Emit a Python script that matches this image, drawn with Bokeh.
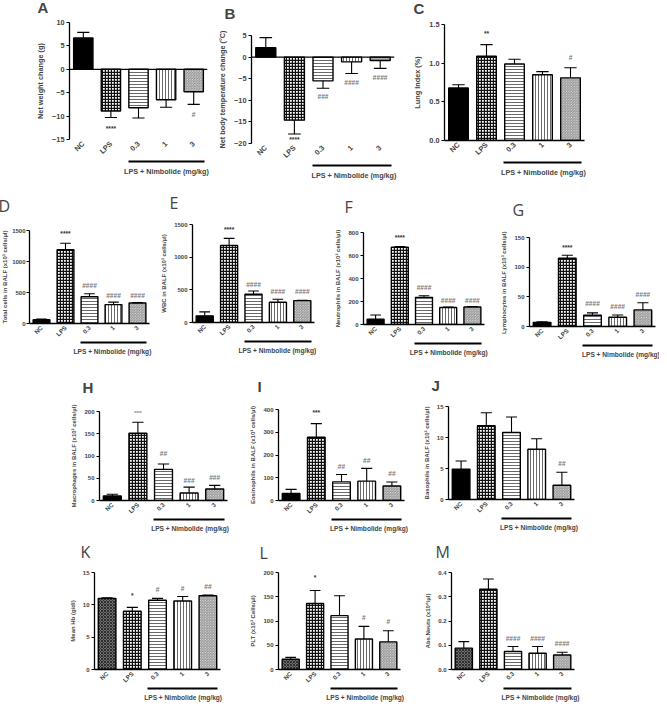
import numpy as np
from math import pi
from bokeh.plotting import figure
from bokeh.layouts import row, column
from bokeh.models import (Range1d, FixedTicker, Span, LinearAxis, ColumnDataSource,
                          PrintfTickFormatter)
from bokeh.embed import file_html
from bokeh.resources import INLINE

# ---------------- data ----------------
categories = ["NC", "LPS", "0.3", "1", "3"]
group_title = "LPS + Nimbolide (mg/kg)"

a_mean = [6.7, -8.9, -8.2, -6.5, -4.8]
a_err = [1.2, 1.4, 2.2, 1.6, 2.7]
a_sig = ["", "****", "", "", "#"]
a_sig_y = [0, -12.6, 0, 0, -9.6]
a_ticks = [-15, -10, -5, 0, 5, 10]

b_mean = [2.2, -14.6, -5.5, -1.1, -0.8]
b_err = [2.3, 3.2, 1.7, 2.7, 1.8]
b_sig = ["", "****", "###", "####", "####"]
b_sig_y = [0, -19.0, -9.2, -5.9, -4.8]
b_ticks = [-20, -15, -10, -5, 0, 5]

c_mean = [0.68, 1.09, 0.99, 0.85, 0.81]
c_err = [0.04, 0.15, 0.06, 0.04, 0.13]
c_sig = ["", "**", "", "", "#"]
c_sig_y = [0, 1.39, 0, 0, 1.07]
c_ticks = [0.0, 0.5, 1.0, 1.5]

d_mean = [60, 1190, 432, 305, 330]
d_err = [12, 105, 48, 40, 6]
d_sig = ["", "****", "####", "####", "####"]
d_sig_y = [0, 1446, 610, 459, 459]
d_ticks = [0, 500, 1000, 1500]

e_mean = [102, 1180, 432, 310, 335]
e_err = [60, 108, 50, 45, 6]
e_sig = ["", "****", "####", "####", "####"]
e_sig_y = [0, 1423, 585, 473, 468]
e_ticks = [0, 500, 1000, 1500]

f_mean = [46, 672, 236, 148, 152]
f_err = [36, 6, 14, 3, 4]
f_sig = ["", "****", "####", "####", "####"]
f_sig_y = [0, 759, 321, 213, 213]
f_ticks = [0, 200, 400, 600, 800]

g_mean = [7, 115, 19, 15.5, 28]
g_err = [1, 5, 4, 4, 12]
g_sig = ["", "****", "####", "####", "####"]
g_sig_y = [0, 133, 38, 34, 54]
g_ticks = [0, 50, 100, 150]

h_mean = [10, 151, 70, 17, 26]
h_err = [4, 25, 12, 13, 8]
h_sig = ["", "***", "##", "###", "###"]
h_sig_y = [0, 197, 105, 45, 52]
h_ticks = [0, 50, 100, 150, 200]

i_mean = [31, 278, 82, 85, 64]
i_err = [18, 60, 32, 56, 17]
i_sig = ["", "***", "##", "##", "##"]
i_sig_y = [0, 385, 151, 177, 117]
i_ticks = [0, 100, 200, 300, 400]

j_mean = [4.9, 11.9, 10.8, 8.1, 2.3]
j_err = [1.3, 2.1, 2.5, 1.7, 2.1]
j_sig = ["", "*", "", "", "##"]
j_sig_y = [0, 15.5, 0, 0, 5.8]
j_ticks = [0, 5, 10, 15]

k_mean = [11.0, 9.0, 10.7, 10.6, 11.4]
k_err = [0.1, 0.6, 0.3, 0.7, 0.1]
k_sig = ["", "*", "#", "#", "##"]
k_sig_y = [0, 11.5, 12.4, 12.5, 12.9]
k_ticks = [0, 5, 10, 15]

l_mean = [21, 136, 111, 63, 57]
l_err = [4, 27, 41, 26, 23]
l_sig = ["", "*", "", "#", "#"]
l_sig_y = [0, 190, 0, 108, 99]
l_ticks = [0, 50, 100, 150, 200]

m_mean = [0.088, 0.331, 0.074, 0.067, 0.060]
m_err = [0.027, 0.042, 0.021, 0.028, 0.011]
m_sig = ["", "****", "####", "####", "####"]
m_sig_y = [0, 0.414, 0.129, 0.129, 0.107]
m_ticks = [0.0, 0.1, 0.2, 0.3, 0.4]

y_labels = {
    "A": "Net weight change (g)",
    "B": "Net body temperature change (°C)",
    "C": "Lung Index (%)",
    "D": "Total cells in BALF (x10³ cells/µl)",
    "E": "WBC in BALF (x10³ cells/µl)",
    "F": "Neutrophils in BALF (x10³ cells/µl)",
    "G": "Lymphocytes  in BALF (x10³ cells/µl)",
    "H": "Macrophages in BALF (x10³ cells/µl)",
    "I": "Eosinophils in BALF (x10³ cells/µl)",
    "J": "Basophils in BALF (x10³ cells/µl)",
    "K": "Mean Hb (g/dl)",
    "L": "PLT (x10³ Cells/µl)",
    "M": "Abs.Neuts (x10⁶/µl)",
}

# ---------------- layout & style ----------------
FONT = "Liberation Sans"
BAR_W = 0.7
PAGE_MARGIN = 8
GROUP_EM = 11.8   # width of the group caption in em (Liberation Sans Bold)


def make_panel(letter, mean, err, sig, sig_y, ticks, box, frame, lpos, big, slot,
               textured_nc=False, zero_line=False, one_decimal=False, bold_letter=True,
               label_standoff=4, tick_standoff=2):
    x0, x1, y0, y1 = box
    fl, fr, ft, fb = frame
    W = x1 - x0
    H = y1 - y0
    bl, br, bt, bb = fl - x0, x1 - fr, ft - y0, y1 - fb
    fw = W - bl - br
    # hidden extra canvas above/below (cancelled by negative margins); a distinct
    # amount per panel so that neighbouring panels keep their own frame positions
    ext_t = 24 + 3 * slot
    ext_b = 24 + 3 * slot

    tick_fs = "7.3px" if big else "6px"
    lab_fs = "7.3px" if big else "6px"
    cat_fs = "7.3px" if big else "6.2px"
    grp_fs = 7.2 if big else 6.6

    p = figure(width=W, height=H + ext_t + ext_b, x_range=Range1d(0.5, 5.5),
               y_range=Range1d(ticks[0], ticks[-1]),
               output_backend="svg", toolbar_location=None,
               min_border_left=bl, min_border_right=br,
               min_border_top=bt + ext_t, min_border_bottom=bb + ext_b,
               margin=(-ext_t, 0, -ext_b, 0))
    p.outline_line_color = None
    p.xgrid.visible = False
    p.ygrid.visible = False
    p.border_fill_alpha = 0
    p.background_fill_alpha = 0

    # panel letter as the title
    lx, ltop = lpos
    p.title.text = letter
    p.title.align = "left"
    p.title.offset = lx - fl
    p.title.text_font = FONT if bold_letter else "Open Sans"
    p.title.text_font_style = "bold" if bold_letter else "normal"
    p.title.text_font_size = "15px" if bold_letter else "16px"
    p.title.standoff = max(0, int(round((ft - ltop) - 8)))

    xs = np.arange(1, len(categories) + 1)
    mean = np.array(mean, dtype=float)
    err = np.array(err, dtype=float)

    if textured_nc:
        nc_fill, nc_hatch, nc_hcol = "#6e6e6e", "diagonal_cross", "#2e2e2e"
    else:
        nc_fill, nc_hatch, nc_hcol = "black", " ", "black"
    fills = [nc_fill, "white", "white", "white", "white"]
    hatches = [nc_hatch, "cross", "horizontal_line", "vertical_line", "left_diagonal_line"]
    hcols = [nc_hcol, "#111111", "#6a6a6a", "#6a6a6a", "#8a8a8a"]
    hscales = [3.0, 3.0, 3.0, 3.0, 2.6]
    hweights = [1.0, 1.4, 1.0, 1.0, 0.9]

    src = ColumnDataSource(dict(x=xs, top=mean, fill=fills, hatch=hatches, hcol=hcols,
                                hs=hscales, hw=hweights))
    p.vbar(x="x", top="top", bottom=0, width=BAR_W, source=src,
           fill_color="fill", hatch_pattern="hatch", hatch_color="hcol",
           hatch_scale="hs", hatch_weight="hw",
           line_color="black", line_width=1.4)

    sign = np.where(mean >= 0, 1.0, -1.0)
    tip = mean + sign * err
    p.segment(x0=xs, y0=mean, x1=xs, y1=tip, line_color="black", line_width=1.1)
    p.segment(x0=xs - 0.22, y0=tip, x1=xs + 0.22, y1=tip, line_color="black", line_width=1.1)

    sx = [x for x, s in zip(xs, sig) if s]
    sy = [y for y, s in zip(sig_y, sig) if s]
    st = [s for s in sig if s]
    scol = ["#333333" if "*" in s else "#777777" for s in st]
    p.text(x=sx, y=sy, text=st, text_color=scol, text_align="center",
           text_baseline="middle", text_font_size="6.6px", text_font_style="bold")

    if zero_line:
        p.add_layout(Span(location=0, dimension="width", line_color="black", line_width=1.3))

    # y axis
    ya = p.yaxis[0]
    ya.ticker = FixedTicker(ticks=ticks)
    if one_decimal:
        ya.formatter = PrintfTickFormatter(format="%.1f")
    ya.axis_label = y_labels[letter]
    ya.axis_label_text_font = FONT
    ya.axis_label_text_font_style = "bold"
    ya.axis_label_text_font_size = lab_fs
    ya.axis_label_standoff = label_standoff
    ya.major_label_text_font = FONT
    ya.major_label_text_font_style = "bold"
    ya.major_label_text_font_size = tick_fs
    ya.major_label_standoff = tick_standoff
    ya.major_tick_in = 0
    ya.major_tick_out = 3
    ya.minor_tick_line_color = None
    ya.axis_line_width = 1.3
    ya.major_tick_line_width = 1.1

    # category x axis
    xa = p.xaxis[0]
    xa.ticker = FixedTicker(ticks=list(xs))
    xa.major_label_overrides = {int(x): c for x, c in zip(xs, categories)}
    xa.major_label_orientation = pi / 4
    xa.major_label_text_font = FONT
    xa.major_label_text_font_style = "bold"
    xa.major_label_text_font_size = cat_fs
    xa.major_label_standoff = 3
    xa.major_tick_in = 0
    xa.major_tick_out = 0
    xa.minor_tick_line_color = None
    xa.axis_line_width = 1.3
    if zero_line:
        xa.axis_line_color = None

    # group bracket: a second bottom axis whose line is bounded to the treated groups;
    # its caption is pushed right (non-breaking spaces) so that it ends at the frame's end
    left = 3 - BAR_W / 2 - 0.03
    right = 5 + BAR_W / 2 + 0.03
    tw = GROUP_EM * grp_fs
    pad = max(0, int(round((fw + 4 - tw) / (0.278 * grp_fs))))
    ga = LinearAxis(ticker=FixedTicker(ticks=[]), bounds=(left, right),
                    axis_label="\u00a0" * pad + group_title, axis_label_standoff=5,
                    axis_label_text_font=FONT, axis_label_text_font_style="bold",
                    axis_label_text_font_size=f"{grp_fs}px",
                    major_tick_out=0, major_tick_in=0, minor_tick_out=0, minor_tick_in=0,
                    major_label_text_font_size="0px", axis_line_width=1.8)
    p.add_layout(ga, "below")
    return column(p)


pA = make_panel("A", a_mean, a_err, a_sig, a_sig_y, a_ticks, (0, 220, 0, 190), (77, 215, 30, 147), (45, 9), True, 0, zero_line=True)
pB = make_panel("B", b_mean, b_err, b_sig, b_sig_y, b_ticks, (220, 418, 0, 190), (259, 402, 43, 151), (232, 8), True, 1, zero_line=True)
pC = make_panel("C", c_mean, c_err, c_sig, c_sig_y, c_ticks, (418, 667, 0, 190), (452, 592, 32, 148), (421, 8), True, 2, one_decimal=True)

pD = make_panel("D", d_mean, d_err, d_sig, d_sig_y, d_ticks, (0, 160, 190, 372), (37, 157, 238, 331), (6, 202), False, 0, bold_letter=False, label_standoff=1, tick_standoff=1)
pE = make_panel("E", e_mean, e_err, e_sig, e_sig_y, e_ticks, (160, 340, 190, 372), (200, 322, 232, 330), (177, 203), False, 1, bold_letter=False)
pF = make_panel("F", f_mean, f_err, f_sig, f_sig_y, f_ticks, (340, 506, 190, 372), (369, 492, 240, 332), (350, 202), False, 2, bold_letter=False)
pG = make_panel("G", g_mean, g_err, g_sig, g_sig_y, g_ticks, (506, 667, 190, 372), (532, 663, 245, 334), (515, 204), False, 3, bold_letter=False)

pH = make_panel("H", h_mean, h_err, h_sig, h_sig_y, h_ticks, (0, 255, 372, 542), (107, 235, 419, 508), (90, 380), False, 0)
pI = make_panel("I", i_mean, i_err, i_sig, i_sig_y, i_ticks, (255, 428, 372, 542), (283, 412, 417, 508), (262, 380), False, 1)
pJ = make_panel("J", j_mean, j_err, j_sig, j_sig_y, j_ticks, (428, 667, 372, 542), (453, 582, 414, 507), (436, 380), False, 2)

pK = make_panel("K", k_mean, k_err, k_sig, k_sig_y, k_ticks, (0, 255, 542, 711), (102, 228, 580, 677), (88, 553), False, 0, textured_nc=True, bold_letter=False)
pL = make_panel("L", l_mean, l_err, l_sig, l_sig_y, l_ticks, (255, 430, 542, 711), (282, 408, 580, 677), (263, 555), False, 1, textured_nc=True, bold_letter=False)
pM = make_panel("M", m_mean, m_err, m_sig, m_sig_y, m_ticks, (430, 667, 542, 711), (453, 582, 580, 677), (437, 553), False, 2, textured_nc=True, one_decimal=True, bold_letter=False)

# the page's 8px body margin is taken back by a negative margin on the root layout,
# so that the 667x711 figure fills the window exactly
layout = column(row(pA, pB, pC), row(pD, pE, pF, pG), row(pH, pI, pJ), row(pK, pL, pM),
                margin=(-PAGE_MARGIN, -PAGE_MARGIN, -PAGE_MARGIN, -PAGE_MARGIN))

open("out.html", "w").write(file_html(layout, INLINE))
